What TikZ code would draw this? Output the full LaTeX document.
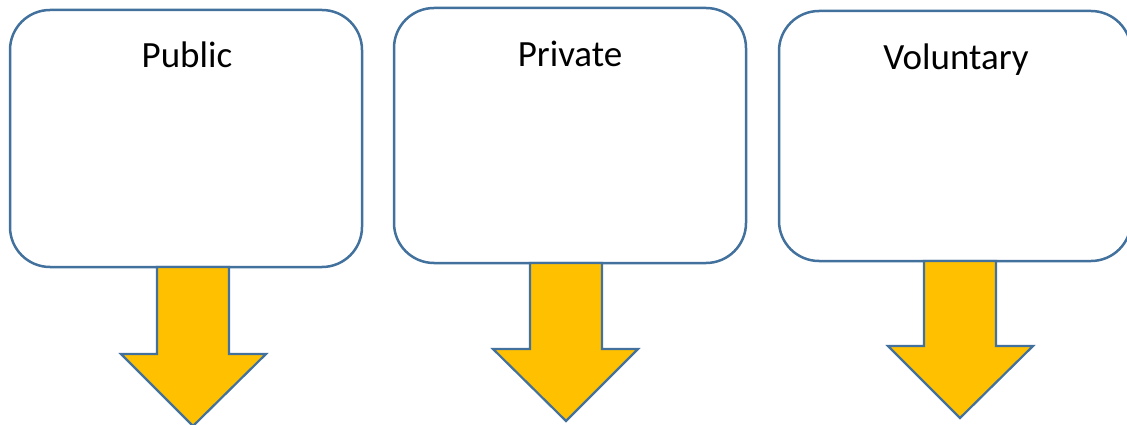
\documentclass[tikz,border=0pt]{standalone}
\usepackage{fontspec}
\setmainfont{Carlito}
\definecolor{edge}{HTML}{41719C}
\definecolor{gold}{HTML}{FFC000}
\begin{document}
\begin{tikzpicture}[x=1pt,y=-1pt,
  card/.style={draw=edge,line width=2.5pt,fill=white,rounded corners=40pt},
  blockarrow/.style={draw=edge,line width=2.2pt,fill=gold,line join=miter},
  title/.style={font=\fontsize{37}{42}\selectfont,anchor=base}]
\useasboundingbox (0,0) rectangle (1127,425);
% boxes
\draw[card] (10,10) rectangle (362,267);
\draw[card] (394,8) rectangle (746,263);
\draw[card] (779,11) rectangle (1131,261);
\node[title] (pub) at (187,68) {Public};
\node[title] (pri) at (570,67) {Private};
\node[title] (vol) at (956,70) {Voluntary};
% arrows
\draw[blockarrow] (157,267) -- (229,267) -- (229,354) -- (266,354) -- (193,426) -- (121,354) -- (157,354) -- cycle;
\draw[blockarrow] (530,263) -- (602,263) -- (602,349) -- (638,349) -- (566,421) -- (493,349) -- (530,349) -- cycle;
\draw[blockarrow] (924,261) -- (996,261) -- (996,346) -- (1033,346) -- (960,418) -- (888,346) -- (924,346) -- cycle;
\end{tikzpicture}
\end{document}
